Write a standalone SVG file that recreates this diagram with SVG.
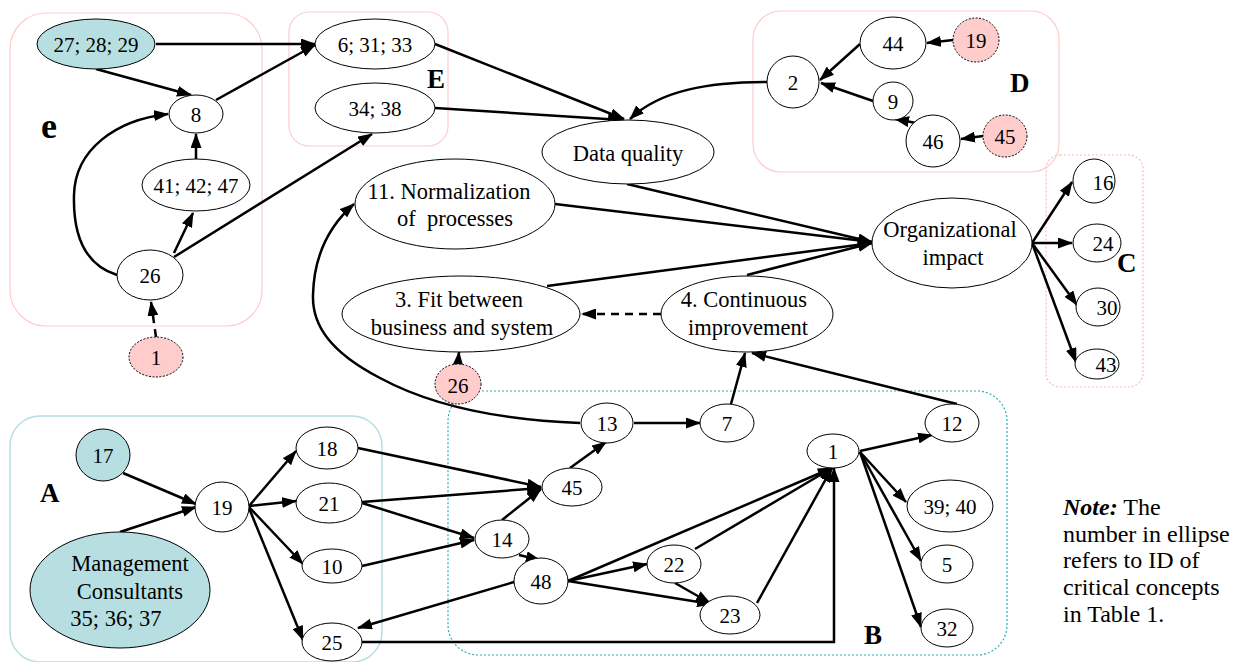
<svg xmlns="http://www.w3.org/2000/svg" width="1236" height="662" viewBox="0 0 1236 662">
<defs>
<marker id="ah" viewBox="0 0 15 11" refX="14" refY="5.5" markerWidth="15" markerHeight="11" markerUnits="userSpaceOnUse" orient="auto"><path d="M0,0 L15,5.5 L0,11 z" fill="#000"/></marker>
<style>
.n{fill:#fff;stroke:#000;stroke-width:1}
.teal{fill:#b7dfe2;stroke:#000;stroke-width:1}
.pink{fill:#ffcccc;stroke:#000;stroke-width:1;stroke-dasharray:2,1.5}
.e{fill:none;stroke:#000;stroke-width:2.5;marker-end:url(#ah)}
.dash{stroke-dasharray:8,6}
text{font-family:"Liberation Serif","Times New Roman",serif;fill:#000}
.t{font-size:21px;text-anchor:middle}
.w{font-size:22.5px;text-anchor:middle}
.lab{font-size:27px;font-weight:bold}
.cp{fill:none;stroke:#ffcccc;stroke-width:1.2}
.cpd{fill:none;stroke:#ffb8b8;stroke-width:1.2;stroke-dasharray:2,2}
.ca{fill:none;stroke:#b7dfe2;stroke-width:1.5}
.cb{fill:none;stroke:#2aafb0;stroke-width:1.2;stroke-dasharray:2,2}
.note{font-size:24px}
</style>
</defs>
<rect width="1236" height="662" fill="#fff"/>
<g id="clusters">
<rect id="cl-e" class="cp" x="10" y="13" width="252" height="313" rx="36"/>
<rect id="cl-E" class="cp" x="289" y="12" width="159" height="134" rx="20"/>
<rect id="cl-D" class="cp" x="753" y="11" width="306" height="161" rx="28"/>
<rect id="cl-C" class="cpd" x="1046" y="155" width="97" height="232" rx="14"/>
<rect id="cl-A" class="ca" x="10" y="416" width="372" height="246" rx="30"/>
<rect id="cl-B" class="cb" x="448" y="391" width="559" height="264" rx="30"/>
</g>
<g id="connectors">
<path class="e" d="M156,44 L315,44"/>
<path class="e" d="M96,69 L191,95"/>
<path class="e" d="M216,100 L315,45"/>
<path class="e" d="M196,159 L196,134"/>
<path class="e" d="M174,253 L193,213"/>
<path class="e" d="M174,257 L372,134"/>
<path class="e" d="M117,275 C85,265 73,235 74,195 C75,150 115,120 168,114"/>
<path class="e dash" d="M156,337 L151,302"/>
<path class="e" d="M435,44 L624,119"/>
<path class="e" d="M435,108 L622,120"/>
<path class="e" d="M767,82 C710,82 660,90 630,119"/>
<path class="e" d="M860,44 L820,80"/>
<path class="e" d="M873,101 L821,83"/>
<path class="e" d="M953,40 L927,43"/>
<path class="e" d="M916,123 L895,119"/>
<path class="e" d="M983,136 L961,139"/>
<path class="e" d="M627,184 L872,242"/>
<path class="e" d="M555,204 L872,242"/>
<path class="e" d="M547,286 L872,243"/>
<path class="e" d="M747,275 L872,243"/>
<path class="e" d="M1032,243 L1072,182"/>
<path class="e" d="M1032,243 L1072,243"/>
<path class="e" d="M1032,243 L1077,305"/>
<path class="e" d="M1032,243 L1076,362"/>
<path class="e dash" d="M661,314 L582,314"/>
<path class="e" d="M458,364 L459,352"/>
<path class="e" d="M580,423 C500,420 430,405 380,378 C330,352 312,325 313,295 C314,255 330,225 354,204"/>
<path class="e" d="M731,404 L745,353"/>
<path class="e" d="M957,404 L752,353"/>
<path class="e" d="M634,423 L700,423"/>
<path class="e" d="M570,468 L606,442"/>
<path class="e" d="M502,520 L541,489"/>
<path class="e" d="M358,448 L541,487"/>
<path class="e" d="M362,502 L541,488"/>
<path class="e" d="M362,503 L474,538"/>
<path class="e" d="M362,566 L474,540"/>
<path class="e" d="M519,555 L540,560"/>
<path class="e" d="M568,581 L647,564"/>
<path class="e" d="M568,581 L711,604"/>
<path class="e" d="M675,583 L710,603"/>
<path class="e" d="M568,581 L832,468"/>
<path class="e" d="M695,549 L832,468"/>
<path class="e" d="M757,603 L832,468"/>
<path class="e" d="M362,642 L834,642 L834,468"/>
<path class="e" d="M514,582 L358,628"/>
<path class="e" d="M860,451 L932,435"/>
<path class="e" d="M860,452 L906,502"/>
<path class="e" d="M860,452 L921,561"/>
<path class="e" d="M860,452 L921,627"/>
<path class="e" d="M123,473 L196,504"/>
<path class="e" d="M120,532 L196,507"/>
<path class="e" d="M249,506 L296,451"/>
<path class="e" d="M249,506 L296,501"/>
<path class="e" d="M249,507 L303,564"/>
<path class="e" d="M249,508 L303,640"/>
</g>
<g id="n-27-28-29"><ellipse class="teal" cx="96" cy="44" rx="59" ry="25"/><text class="t" x="96" y="52">27; 28; 29</text></g>
<g id="n-8"><ellipse class="n" cx="196" cy="114" rx="27" ry="19"/><text class="t" x="196" y="122">8</text></g>
<g id="n-41-42-47"><ellipse class="n" cx="196" cy="185" rx="54" ry="26"/><text class="t" x="196" y="193">41; 42; 47</text></g>
<g id="n-26e"><ellipse class="n" cx="150" cy="275" rx="33" ry="25"/><text class="t" x="150" y="283">26</text></g>
<g id="n-1p"><ellipse class="pink" cx="156" cy="357" rx="27" ry="20"/><text class="t" x="156" y="365">1</text></g>
<g id="n-6-31-33"><ellipse class="n" cx="375" cy="44" rx="60" ry="25"/><text class="t" x="375" y="52">6; 31; 33</text></g>
<g id="n-34-38"><ellipse class="n" cx="375" cy="108" rx="60" ry="25"/><text class="t" x="375" y="116">34; 38</text></g>
<g id="n-dq"><ellipse class="n" cx="628" cy="152" rx="86" ry="32"/><text class="w" x="628" y="161">Data quality</text></g>
<g id="n-2"><ellipse class="n" cx="793" cy="82" rx="26" ry="26"/><text class="t" x="793" y="90">2</text></g>
<g id="n-44"><ellipse class="n" cx="893" cy="43" rx="33" ry="26"/><text class="t" x="893" y="51">44</text></g>
<g id="n-19p"><ellipse class="pink" cx="976" cy="40" rx="23" ry="22"/><text class="t" x="976" y="48">19</text></g>
<g id="n-9"><ellipse class="n" cx="893" cy="101" rx="20" ry="19"/><text class="t" x="893" y="109">9</text></g>
<g id="n-46"><ellipse class="n" cx="933" cy="141" rx="27" ry="26"/><text class="t" x="933" y="149">46</text></g>
<g id="n-45p"><ellipse class="pink" cx="1005" cy="136" rx="22" ry="21"/><text class="t" x="1005" y="144">45</text></g>
<g id="n-org"><ellipse class="n" cx="952" cy="243" rx="80" ry="45"/><text class="w" x="950" y="237">Organizational</text><text class="w" x="953" y="265">impact</text></g>
<g id="n-16"><ellipse class="n" cx="1094" cy="181" rx="21" ry="22"/><text class="t" x="1103" y="190">16</text></g>
<g id="n-24"><ellipse class="n" cx="1097" cy="243" rx="24" ry="19"/><text class="t" x="1103" y="251">24</text></g>
<g id="n-30"><ellipse class="n" cx="1098" cy="307" rx="22" ry="19"/><text class="t" x="1107" y="315">30</text></g>
<g id="n-43"><ellipse class="n" cx="1097" cy="364" rx="22" ry="15"/><text class="t" x="1106" y="372">43</text></g>
<g id="n-11"><ellipse class="n" cx="455" cy="204" rx="100" ry="45"/><text class="w" x="449" y="199">11. Normalization</text><text class="w" x="455" y="226" style="white-space:pre">of  processes</text></g>
<g id="n-3"><ellipse class="n" cx="461" cy="314" rx="119" ry="38"/><text class="w" x="459" y="307">3. Fit between</text><text class="w" x="462" y="335">business and system</text></g>
<g id="n-4"><ellipse class="n" cx="747" cy="314" rx="86" ry="38"/><text class="w" x="744" y="307">4. Continuous</text><text class="w" x="748" y="335">improvement</text></g>
<g id="n-26p"><ellipse class="pink" cx="458" cy="384" rx="23" ry="20"/><text class="t" x="458" y="393">26</text></g>
<g id="n-13"><ellipse class="n" cx="607" cy="423" rx="26" ry="20"/><text class="t" x="607" y="431">13</text></g>
<g id="n-7"><ellipse class="n" cx="727" cy="423" rx="27" ry="19"/><text class="t" x="727" y="431">7</text></g>
<g id="n-45"><ellipse class="n" cx="572" cy="487" rx="30" ry="19"/><text class="t" x="572" y="495">45</text></g>
<g id="n-14"><ellipse class="n" cx="502" cy="539" rx="27" ry="19"/><text class="t" x="502" y="547">14</text></g>
<g id="n-48"><ellipse class="n" cx="541" cy="581" rx="27" ry="23"/><text class="t" x="541" y="589">48</text></g>
<g id="n-22"><ellipse class="n" cx="674" cy="564" rx="27" ry="19"/><text class="t" x="674" y="572">22</text></g>
<g id="n-23"><ellipse class="n" cx="730" cy="615" rx="30" ry="19"/><text class="t" x="730" y="623">23</text></g>
<g id="n-1"><ellipse class="n" cx="833" cy="451" rx="26" ry="17"/><text class="t" x="833" y="459">1</text></g>
<g id="n-12"><ellipse class="n" cx="952" cy="423" rx="27" ry="19"/><text class="t" x="952" y="431">12</text></g>
<g id="n-39-40"><ellipse class="n" cx="950" cy="506" rx="43" ry="26"/><text class="t" x="950" y="514">39; 40</text></g>
<g id="n-5"><ellipse class="n" cx="947" cy="564" rx="26" ry="19"/><text class="t" x="947" y="572">5</text></g>
<g id="n-32"><ellipse class="n" cx="947" cy="628" rx="26" ry="19"/><text class="t" x="947" y="636">32</text></g>
<g id="n-17"><ellipse class="teal" cx="103" cy="455" rx="27" ry="26"/><text class="t" x="103" y="463">17</text></g>
<g id="n-19"><ellipse class="n" cx="222" cy="507" rx="27" ry="25"/><text class="t" x="222" y="515">19</text></g>
<g id="n-mc"><ellipse class="teal" cx="120" cy="590" rx="90" ry="58"/><text class="w" x="130" y="571">Management</text><text class="w" x="130" y="599">Consultants</text><text class="w" x="116" y="626">35; 36; 37</text></g>
<g id="n-18"><ellipse class="n" cx="327" cy="448" rx="31" ry="21"/><text class="t" x="327" y="456">18</text></g>
<g id="n-21"><ellipse class="n" cx="329" cy="503" rx="33" ry="20"/><text class="t" x="329" y="511">21</text></g>
<g id="n-10"><ellipse class="n" cx="332" cy="566" rx="30" ry="17"/><text class="t" x="332" y="574">10</text></g>
<g id="n-25"><ellipse class="n" cx="332" cy="642" rx="30" ry="19"/><text class="t" x="332" y="650">25</text></g>
<g id="labels">
<text x="49" y="138" style="font-size:36px;font-weight:bold;text-anchor:middle">e</text>
<text class="lab" x="427" y="88">E</text>
<text class="lab" x="1010" y="92">D</text>
<text class="lab" x="1117" y="272">C</text>
<text class="lab" x="40" y="502">A</text>
<text class="lab" x="864" y="644">B</text>
</g>
<g id="note">
<text class="note" x="1063" y="515"><tspan style="font-weight:bold;font-style:italic">Note:</tspan> The</text>
<text class="note" x="1063" y="542">number in ellipse</text>
<text class="note" x="1063" y="568">refers to ID of</text>
<text class="note" x="1063" y="595">critical concepts</text>
<text class="note" x="1063" y="622">in Table 1.</text>
</g>
</svg>
